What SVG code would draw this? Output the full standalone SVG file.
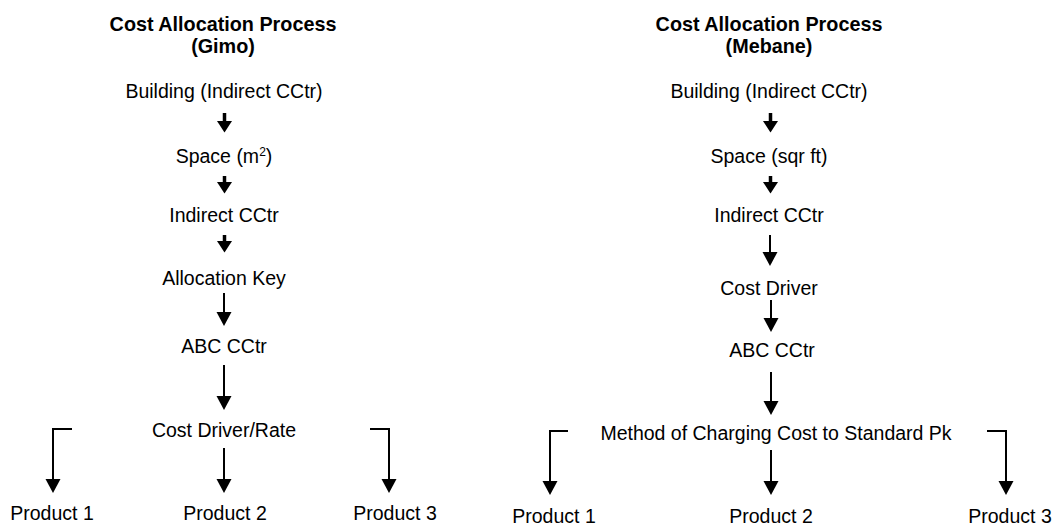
<svg xmlns="http://www.w3.org/2000/svg" width="1056" height="527" viewBox="0 0 1056 527">
  <style>
    text { font-family: "Liberation Sans", Arial, sans-serif; font-size: 19.5px; fill: #000; text-anchor: middle; }
    .title { font-weight: bold; font-size: 19.8px; }
    .fat { stroke: #000; stroke-width: 3.5; fill: none; marker-end: url(#headFat); }
    .thin { stroke: #000; stroke-width: 2; fill: none; marker-end: url(#head); }
  </style>
  <defs>
    <marker id="head" markerUnits="userSpaceOnUse" markerWidth="16" markerHeight="16" refX="0" refY="8" orient="auto" viewBox="0 0 16 16">
      <path d="M0,0.5 L14,8 L0,15.5 Z" fill="#000"/>
    </marker>
    <marker id="headFat" markerUnits="userSpaceOnUse" markerWidth="16" markerHeight="16" refX="0" refY="8" orient="auto" viewBox="0 0 16 16">
      <path d="M0,0.5 L11.5,8 L0,15.5 Z" fill="#000"/>
    </marker>
  </defs>

  <rect width="1056" height="527" fill="#fff"/>

  <!-- Gimo process -->
  <g id="gimo-title"><text class="title" x="223" y="31">Cost Allocation Process</text><text class="title" x="223" y="53">(Gimo)</text></g>
  <g id="gimo-building"><text x="224" y="98">Building (Indirect CCtr)</text></g>
  <g id="gimo-space"><text x="224" y="163">Space (m<tspan dy="-7" font-size="12">2</tspan><tspan dy="7">)</tspan></text></g>
  <g id="gimo-indirect"><text x="224" y="222">Indirect CCtr</text></g>
  <g id="gimo-key"><text x="224" y="285">Allocation Key</text></g>
  <g id="gimo-abc"><text x="224" y="353">ABC CCtr</text></g>
  <g id="gimo-driver"><text x="224" y="437">Cost Driver/Rate</text></g>
  <g id="gimo-p1"><text x="52" y="520">Product 1</text></g>
  <g id="gimo-p2"><text x="225" y="520">Product 2</text></g>
  <g id="gimo-p3"><text x="395" y="520">Product 3</text></g>

  <!-- Mebane process -->
  <g id="mebane-title"><text class="title" x="769" y="31">Cost Allocation Process</text><text class="title" x="769" y="53">(Mebane)</text></g>
  <g id="mebane-building"><text x="769" y="98">Building (Indirect CCtr)</text></g>
  <g id="mebane-space"><text x="769" y="163">Space (sqr ft)</text></g>
  <g id="mebane-indirect"><text x="769" y="222">Indirect CCtr</text></g>
  <g id="mebane-driver"><text x="769" y="295">Cost Driver</text></g>
  <g id="mebane-abc"><text x="772" y="357">ABC CCtr</text></g>
  <g id="mebane-method"><text x="776" y="440">Method of Charging Cost to Standard Pk</text></g>
  <g id="mebane-p1"><text x="554" y="523">Product 1</text></g>
  <g id="mebane-p2"><text x="771" y="523">Product 2</text></g>
  <g id="mebane-p3"><text x="1010" y="523">Product 3</text></g>

  <!-- connectors -->
  <g id="connectors">
    <line class="fat" x1="224.5" y1="113" x2="224.5" y2="121"/>
    <line class="fat" x1="224.5" y1="176" x2="224.5" y2="182"/>
    <line class="fat" x1="224.5" y1="235" x2="224.5" y2="241"/>
    <line class="thin" x1="224" y1="293" x2="224" y2="312"/>
    <line class="thin" x1="224" y1="365" x2="224" y2="396"/>
    <line class="thin" x1="224" y1="448" x2="224" y2="479"/>
    <polyline class="thin" points="72,429 53,429 53,479"/>
    <polyline class="thin" points="370,429 389,429 389,479"/>

    <line class="fat" x1="770.5" y1="113" x2="770.5" y2="121"/>
    <line class="fat" x1="770.5" y1="176" x2="770.5" y2="182"/>
    <line class="thin" x1="770" y1="235" x2="770" y2="252"/>
    <line class="thin" x1="771" y1="300" x2="771" y2="318"/>
    <line class="thin" x1="771" y1="372" x2="771" y2="401"/>
    <line class="thin" x1="771" y1="450" x2="771" y2="481"/>
    <polyline class="thin" points="568,431 550,431 550,481"/>
    <polyline class="thin" points="987,431 1006,431 1006,481"/>
  </g>
</svg>
